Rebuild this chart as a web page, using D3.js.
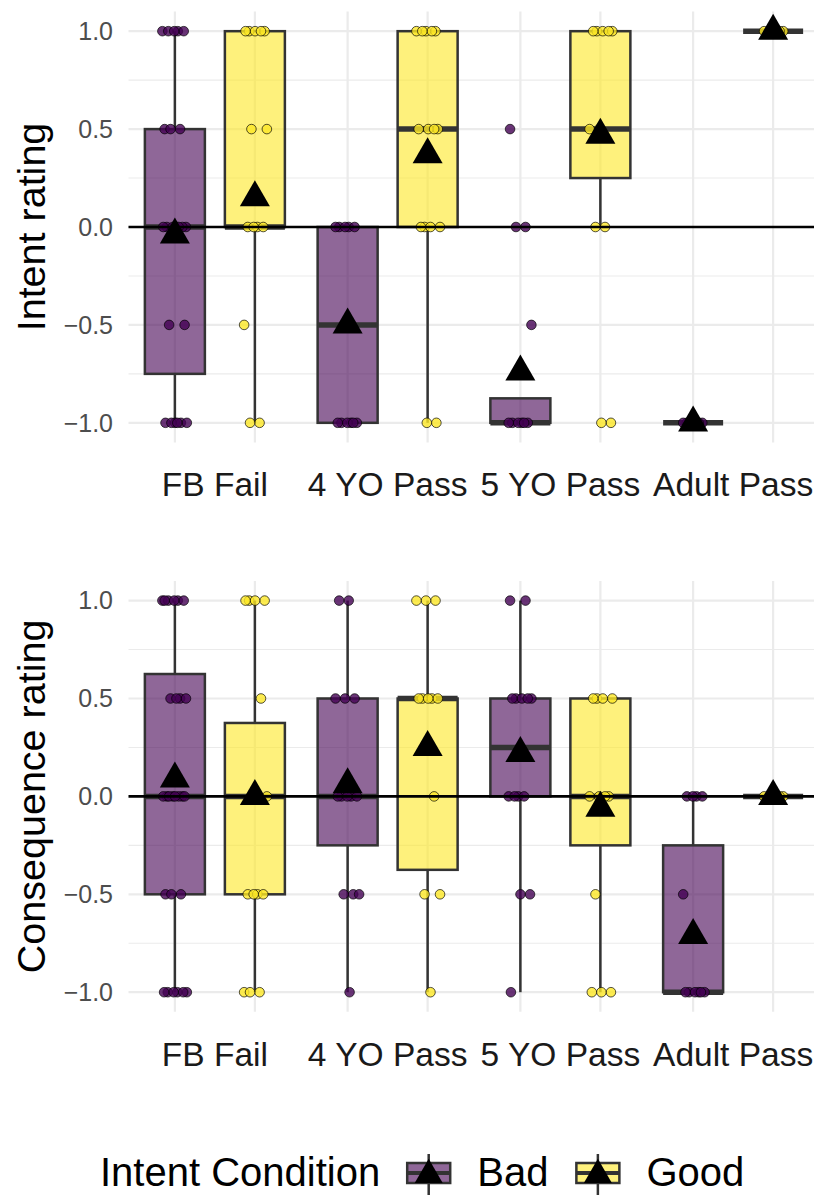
<!DOCTYPE html>
<html>
<head>
<meta charset="utf-8">
<script src="https://cdn.jsdelivr.net/npm/d3@7"></script>
<style>
  html, body { margin: 0; padding: 0; background: #ffffff; }
  svg { display: block; }
  text { font-family: "Liberation Sans", Arial, Helvetica, sans-serif; }
</style>
</head>
<body>
<script>
// ---- data -------------------------------------------------------------
const categories = ["FB Fail", "4 YO Pass", "5 YO Pass", "Adult Pass"];
const conditions = ["Bad", "Good"];
const yTicks = [-1, -0.5, 0, 0.5, 1];
const yMinorTicks = [-0.75, -0.25, 0.25, 0.75];

// group order: FB Fail Bad, FB Fail Good, 4 YO Bad, 4 YO Good, 5 YO Bad, 5 YO Good, Adult Bad, Adult Good
const intentLower  = [-1, -1, -1, -1, -1, 0, -1, 1];
const intentQ1     = [-0.75, 0, -1, 0, -1, 0.25, -1, 1];
const intentMedian = [0, 0, -0.5, 0.5, -1, 0.5, -1, 1];
const intentQ3     = [0.5, 1, 0, 1, -0.875, 1, -1, 1];
const intentUpper  = [1, 1, 0, 1, -0.875, 1, -1, 1];
const intentMean   = [-0.04, 0.15, -0.5, 0.37, -0.74, 0.47, -1, 1];
const intentPoints = [
  [1, 1, 1, 1, 1, 0.5, 0.5, 0.5, 0, 0, 0, 0, 0, 0, 0, -0.5, -0.5, -1, -1, -1, -1, -1, -1],
  [1, 1, 1, 1, 1, 0.5, 0.5, 0, 0, 0, 0, -0.5, -1, -1],
  [0, 0, 0, 0, 0, -1, -1, -1, -1, -1, -1],
  [1, 1, 1, 1, 1, 0.5, 0.5, 0.5, 0.5, 0, 0, 0, 0, -1, -1],
  [0.5, 0, 0, -0.5, -1, -1, -1, -1, -1, -1],
  [1, 1, 1, 1, 1, 0.5, 0.5, 0, 0, -1, -1],
  [-1, -1, -1, -1, -1, -1],
  [1, 1, 1, 1, 1]
];

const consLower  = [-1, -1, -1, -1, -1, -1, -1, 0];
const consQ1     = [-0.5, -0.5, -0.25, -0.375, 0, -0.25, -1, 0];
const consMedian = [0, 0, 0, 0.5, 0.25, 0, -1, 0];
const consQ3     = [0.625, 0.375, 0.5, 0.5, 0.5, 0.5, -0.25, 0];
const consUpper  = [1, 1, 1, 1, 1, 0.5, 0, 0];
const consMean   = [0.09, 0.0, 0.06, 0.25, 0.22, -0.06, -0.71, 0.0];
const consPoints = [
  [1, 1, 1, 1, 1, 1, 0.5, 0.5, 0.5, 0.5, 0, 0, 0, 0, 0, 0, 0, 0, -0.5, -0.5, -0.5, -1, -1, -1, -1, -1, -1],
  [1, 1, 1, 1, 0.5, 0, 0, -0.5, -0.5, -0.5, -0.5, -1, -1, -1],
  [1, 1, 0.5, 0.5, 0.5, 0, 0, 0, 0, 0, -0.5, -0.5, -0.5, -1],
  [1, 1, 1, 0.5, 0.5, 0.5, 0.5, 0.5, 0, -0.5, -0.5, -1],
  [1, 1, 0.5, 0.5, 0.5, 0.5, 0.5, 0, 0, 0, 0, -0.5, -0.5, -1],
  [0.5, 0.5, 0.5, 0.5, 0, 0, 0, 0, -0.5, -1, -1, -1],
  [0, 0, 0, 0, -0.5, -1, -1, -1, -1, -1, -1],
  [0, 0, 0, 0, 0]
];

// ---- setup ------------------------------------------------------------
const W = 814, H = 1195;
const fillColor = { Bad: "#440154", Good: "#FDE725" };
const lineColor = "#333333";

const svg = d3.select("body").append("svg")
  .attr("width", W).attr("height", H)
  .attr("viewBox", `0 0 ${W} ${H}`);

const plotLeft = 128.5, plotRight = 819.5;
const x0 = d3.scaleBand().domain(categories).range([plotLeft, plotRight]).paddingInner(0).paddingOuter(0);
const x1 = d3.scaleBand().domain(conditions).range([-80, 80]);
const boxW = 60;
const groupX = (c, k) => x0(c) + x0.bandwidth() / 2 + x1(k) + x1.bandwidth() / 2;

// deterministic horizontal spread for overlapping ratings
const spread = (i, g) => (((i * 0.6180339887 + g * 0.2719) % 1) - 0.5) * 25;

function buildGroups(lower, q1, med, q3, upper, mean, points) {
  return lower.map((_, i) => ({
    category: categories[Math.floor(i / 2)],
    condition: conditions[i % 2],
    lower: lower[i], q1: q1[i], median: med[i], q3: q3[i], upper: upper[i],
    mean: mean[i], points: points[i], idx: i
  }));
}

function drawPanel(top, bottom, title, groups) {
  const y = d3.scaleLinear().domain([-1.1, 1.1]).range([bottom, top]);
  const g = svg.append("g");

  // grid
  g.selectAll("line.minor").data(yMinorTicks).join("line")
    .attr("x1", plotLeft).attr("x2", W)
    .attr("y1", d => y(d)).attr("y2", d => y(d))
    .attr("stroke", "#EBEBEB").attr("stroke-width", 1.1);
  g.selectAll("line.major").data(yTicks).join("line")
    .attr("x1", plotLeft).attr("x2", W)
    .attr("y1", d => y(d)).attr("y2", d => y(d))
    .attr("stroke", "#EBEBEB").attr("stroke-width", 2.2);
  g.selectAll("line.vgrid").data(groups).join("line")
    .attr("x1", d => groupX(d.category, d.condition)).attr("x2", d => groupX(d.category, d.condition))
    .attr("y1", top).attr("y2", bottom)
    .attr("stroke", "#EBEBEB").attr("stroke-width", 2.2);

  // y axis labels
  const fmt = d3.format(".1f");
  g.selectAll("text.ytick").data(yTicks).join("text")
    .attr("x", 113).attr("y", d => y(d)).attr("dy", "0.35em")
    .attr("text-anchor", "end").attr("font-size", 25).attr("fill", "#4D4D4D")
    .text(d => fmt(d));

  // x axis labels
  g.selectAll("text.xtick").data(categories).join("text")
    .attr("x", d => x0(d) + x0.bandwidth() / 2).attr("y", bottom + 54)
    .attr("text-anchor", "middle").attr("font-size", 33.5).attr("fill", "#1a1a1a")
    .text(d => d);

  // y title
  g.append("text")
    .attr("transform", `translate(45,${(top + bottom) / 2}) rotate(-90)`)
    .attr("text-anchor", "middle").attr("font-size", 39.5).attr("fill", "#000")
    .text(title);

  // boxes
  const bx = g.selectAll("g.box").data(groups).join("g")
    .attr("transform", d => `translate(${groupX(d.category, d.condition)},0)`);
  bx.filter(d => d.upper > d.q3).append("line")
    .attr("y1", d => y(d.q3)).attr("y2", d => y(d.upper))
    .attr("stroke", lineColor).attr("stroke-width", 2.5);
  bx.filter(d => d.lower < d.q1).append("line")
    .attr("y1", d => y(d.q1)).attr("y2", d => y(d.lower))
    .attr("stroke", lineColor).attr("stroke-width", 2.5);
  bx.append("rect")
    .attr("x", -boxW / 2).attr("width", boxW)
    .attr("y", d => y(d.q3)).attr("height", d => y(d.q1) - y(d.q3))
    .attr("fill", d => fillColor[d.condition]).attr("fill-opacity", 0.6)
    .attr("stroke", lineColor).attr("stroke-width", 2.5);
  bx.append("line")
    .attr("x1", -boxW / 2).attr("x2", boxW / 2)
    .attr("y1", d => y(d.median)).attr("y2", d => y(d.median))
    .attr("stroke", lineColor).attr("stroke-width", 5.5);

  // individual ratings
  bx.each(function (d) {
    d3.select(this).selectAll("circle").data(d.points).join("circle")
      .attr("cx", (v, i) => spread(i, d.idx))
      .attr("cy", v => y(v))
      .attr("r", 4.8)
      .attr("fill", fillColor[d.condition]).attr("fill-opacity", 0.8)
      .attr("stroke", "#000").attr("stroke-opacity", 0.75).attr("stroke-width", 0.9);
  });

  // reference line at zero
  g.append("line")
    .attr("x1", plotLeft).attr("x2", W)
    .attr("y1", y(0)).attr("y2", y(0))
    .attr("stroke", "#000").attr("stroke-width", 2.6);

  // means
  const tri = d3.symbol().type(d3.symbolTriangle).size(390);
  g.selectAll("path.mean").data(groups).join("path")
    .attr("transform", d => `translate(${groupX(d.category, d.condition)},${y(d.mean)})`)
    .attr("d", tri).attr("fill", "#000");
}

drawPanel(11.6, 442.4, "Intent rating",
  buildGroups(intentLower, intentQ1, intentMedian, intentQ3, intentUpper, intentMean, intentPoints));
drawPanel(581, 1011.8, "Consequence rating",
  buildGroups(consLower, consQ1, consMedian, consQ3, consUpper, consMean, consPoints));

// ---- legend -----------------------------------------------------------
const leg = svg.append("g");
const legBase = 1186;
const legFont = 40;
const title = leg.append("text").attr("x", 100).attr("y", legBase)
  .attr("font-size", legFont).attr("fill", "#000").text("Intent Condition");
let cx = 100 + title.node().getComputedTextLength() + 27;
const keyTri = d3.symbol().type(d3.symbolTriangle).size(340);
conditions.forEach(k => {
  const kg = leg.append("g").attr("transform", `translate(${cx},0)`);
  kg.append("line").attr("x1", 21.5).attr("x2", 21.5).attr("y1", 1154).attr("y2", 1195)
    .attr("stroke", lineColor).attr("stroke-width", 2.5);
  kg.append("rect").attr("x", 0).attr("y", 1163).attr("width", 43).attr("height", 20)
    .attr("fill", "#fff");
  kg.append("rect").attr("x", 0).attr("y", 1163).attr("width", 43).attr("height", 20)
    .attr("fill", fillColor[k]).attr("fill-opacity", 0.6)
    .attr("stroke", lineColor).attr("stroke-width", 2.5);
  kg.append("line").attr("x1", 0).attr("x2", 43).attr("y1", 1173).attr("y2", 1173)
    .attr("stroke", lineColor).attr("stroke-width", 4);
  kg.append("path").attr("transform", "translate(21.5,1175)").attr("d", keyTri).attr("fill", "#000");
  const t = leg.append("text").attr("x", cx + 70).attr("y", legBase)
    .attr("font-size", legFont).attr("fill", "#000").text(k);
  cx = cx + 70 + t.node().getComputedTextLength() + 28;
});
</script>
</body>
</html>
